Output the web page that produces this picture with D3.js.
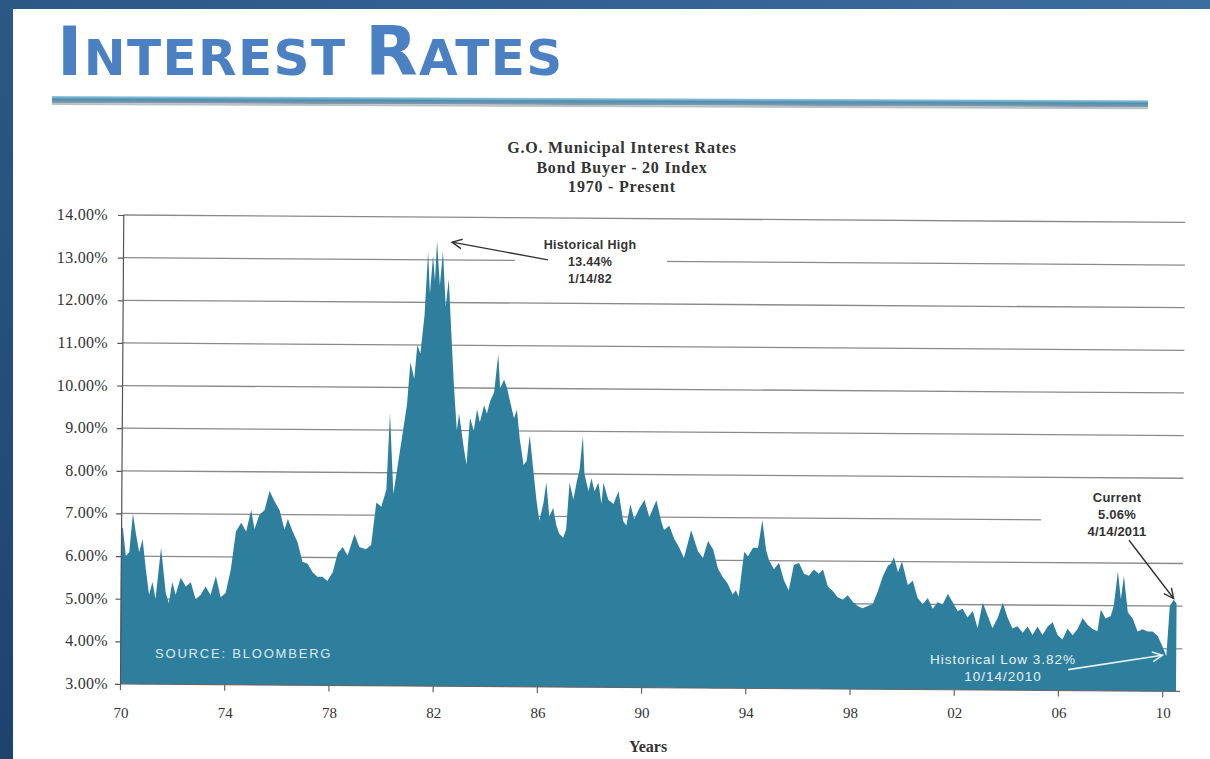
<!DOCTYPE html>
<html>
<head>
<meta charset="utf-8">
<script src="https://cdn.jsdelivr.net/npm/d3@7"></script>
<style>
  body { margin: 0; background: #fff; }
  svg { display: block; }
</style>
</head>
<body>
<div id="chart"></div>
<script>
// DATA
let years = [
  1970.00, 1970.07, 1970.19, 1970.32, 1970.45, 1970.58, 1970.70, 1970.83, 1970.96, 1971.09,
  1971.22, 1971.34, 1971.54, 1971.73, 1971.85, 1971.98, 1972.11, 1972.30, 1972.50, 1972.69,
  1972.88, 1973.07, 1973.26, 1973.45, 1973.65, 1973.84, 1974.03, 1974.22, 1974.41, 1974.61,
  1974.80, 1974.99, 1975.12, 1975.31, 1975.50, 1975.69, 1975.89, 1976.08, 1976.27, 1976.40,
  1976.59, 1976.78, 1976.97, 1977.17, 1977.36, 1977.55, 1977.74, 1977.93, 1978.13, 1978.32,
  1978.51, 1978.70, 1978.96, 1979.15, 1979.40, 1979.60, 1979.79, 1979.98, 1980.17, 1980.29,
  1980.44, 1980.56, 1980.75, 1980.94, 1981.06, 1981.21, 1981.32, 1981.44, 1981.59, 1981.71,
  1981.79, 1981.90, 1981.98, 1982.05, 1982.17, 1982.28, 1982.40, 1982.51, 1982.63, 1982.74,
  1982.86, 1982.94, 1983.13, 1983.24, 1983.36, 1983.51, 1983.63, 1983.74, 1983.90, 1984.01,
  1984.13, 1984.28, 1984.43, 1984.51, 1984.66, 1984.78, 1984.89, 1985.05, 1985.16, 1985.28,
  1985.43, 1985.55, 1985.66, 1985.82, 1985.93, 1986.05, 1986.20, 1986.31, 1986.43, 1986.58,
  1986.70, 1986.81, 1986.97, 1987.08, 1987.20, 1987.35, 1987.47, 1987.58, 1987.70, 1987.77,
  1987.93, 1988.04, 1988.16, 1988.31, 1988.43, 1988.50, 1988.69, 1988.89, 1989.08, 1989.27,
  1989.39, 1989.54, 1989.69, 1989.88, 1990.08, 1990.27, 1990.54, 1990.73, 1990.84, 1991.04,
  1991.23, 1991.42, 1991.61, 1991.88, 1992.15, 1992.34, 1992.53, 1992.73, 1992.92, 1993.11,
  1993.30, 1993.49, 1993.61, 1993.72, 1993.92, 1994.07, 1994.26, 1994.45, 1994.61, 1994.76,
  1994.88, 1995.07, 1995.26, 1995.45, 1995.64, 1995.83, 1996.03, 1996.22, 1996.41, 1996.60,
  1996.79, 1996.95, 1997.14, 1997.33, 1997.52, 1997.72, 1997.91, 1998.10, 1998.29, 1998.48,
  1998.68, 1998.87, 1999.06, 1999.25, 1999.44, 1999.56, 1999.67, 1999.83, 1999.98, 2000.21,
  2000.40, 2000.59, 2000.79, 2000.98, 2001.17, 2001.36, 2001.55, 2001.75, 2001.94, 2002.13,
  2002.32, 2002.51, 2002.71, 2002.90, 2003.09, 2003.28, 2003.47, 2003.67, 2003.86, 2004.05,
  2004.24, 2004.43, 2004.63, 2004.82, 2005.01, 2005.20, 2005.39, 2005.59, 2005.78, 2005.97,
  2006.16, 2006.35, 2006.55, 2006.74, 2006.93, 2007.12, 2007.31, 2007.50, 2007.62, 2007.81,
  2008.00, 2008.12, 2008.27, 2008.39, 2008.50, 2008.66, 2008.85, 2009.04, 2009.23, 2009.42,
  2009.62, 2009.81, 2010.00, 2010.15, 2010.27, 2010.42, 2010.53
]
let rates = [
  6.70, 6.65, 6.00, 6.10, 7.00, 6.50, 6.10, 6.40, 5.70, 5.10,
  5.40, 5.00, 6.20, 5.15, 4.90, 5.40, 5.10, 5.50, 5.30, 5.40,
  5.00, 5.10, 5.30, 5.10, 5.55, 5.05, 5.15, 5.70, 6.60, 6.80,
  6.60, 7.10, 6.65, 7.00, 7.10, 7.55, 7.30, 7.10, 6.65, 6.90,
  6.60, 6.35, 5.90, 5.85, 5.65, 5.55, 5.55, 5.45, 5.65, 6.10,
  6.25, 6.05, 6.55, 6.25, 6.20, 6.30, 7.30, 7.20, 7.60, 9.40,
  7.50, 8.00, 8.80, 9.60, 10.60, 10.20, 11.00, 10.80, 11.70, 13.20,
  12.20, 13.10, 12.50, 13.44, 12.40, 13.20, 11.90, 12.55, 11.20, 10.00,
  9.00, 9.40, 8.60, 8.20, 9.30, 9.00, 9.50, 9.20, 9.60, 9.40,
  9.70, 9.90, 10.80, 10.00, 10.20, 10.00, 9.70, 9.30, 9.50, 8.80,
  8.20, 8.30, 8.90, 8.00, 7.40, 6.90, 7.30, 7.80, 7.00, 7.20,
  6.80, 6.60, 6.50, 6.70, 7.80, 7.40, 7.80, 8.10, 8.90, 8.00,
  7.60, 7.90, 7.60, 7.80, 7.30, 7.80, 7.40, 7.30, 7.60, 6.90,
  6.80, 7.30, 6.95, 7.20, 7.40, 7.00, 7.40, 6.90, 6.70, 6.80,
  6.50, 6.30, 6.05, 6.70, 6.20, 6.05, 6.45, 6.25, 5.80, 5.60,
  5.45, 5.20, 5.30, 5.15, 6.20, 6.10, 6.30, 6.30, 6.95, 6.25,
  6.00, 5.80, 5.95, 5.55, 5.30, 5.90, 5.95, 5.70, 5.65, 5.80,
  5.70, 5.80, 5.40, 5.30, 5.15, 5.10, 5.20, 5.05, 4.95, 4.90,
  4.95, 5.00, 5.30, 5.65, 5.90, 5.95, 6.10, 5.75, 6.00, 5.45,
  5.55, 5.15, 5.00, 5.15, 4.90, 5.05, 5.00, 5.25, 5.05, 4.85,
  4.90, 4.70, 4.85, 4.45, 5.05, 4.75, 4.45, 4.70, 5.05, 4.70,
  4.45, 4.50, 4.35, 4.50, 4.30, 4.50, 4.30, 4.50, 4.60, 4.30,
  4.20, 4.45, 4.30, 4.45, 4.70, 4.55, 4.45, 4.40, 4.90, 4.70,
  4.75, 5.00, 5.80, 5.15, 5.70, 4.85, 4.70, 4.40, 4.45, 4.40,
  4.40, 4.30, 4.05, 3.82, 5.00, 5.15, 5.06
]
let tickYears = [1970, 1974, 1978, 1982, 1986, 1990, 1994, 1998, 2002, 2006, 2010]
let tickLabels = ["70", "74", "78", "82", "86", "90", "94", "98", "02", "06", "10"]
let rateTicks = [3, 4, 5, 6, 7, 8, 9, 10, 11, 12, 13, 14]
let titleLines = ["G.O. Municipal Interest Rates", "Bond Buyer - 20 Index", "1970 - Present"]

let series = years.map((y, i) => ({year: y, rate: rates[i]}))
let high = {year: 1982.05, rate: 13.44}
let low = {year: 2010.15, rate: 3.82}
let current = {year: 2010.53, rate: 5.06}

// CHART AREA
let W = 1210, H = 759
let margin = {top: 215, right: 34, bottom: 75, left: 120}
let plotRight = 1176

let svg = d3.select("#chart").append("svg")
    .attr("width", W)
    .attr("height", H)

let defs = svg.append("defs")
let bg = defs.append("linearGradient").attr("id", "bgGrad")
    .attr("x1", "0").attr("y1", "1").attr("x2", "1").attr("y2", "0")
bg.append("stop").attr("offset", "0%").attr("stop-color", "#1d436d")
bg.append("stop").attr("offset", "100%").attr("stop-color", "#3b6d9f")

let ruleGrad = defs.append("linearGradient").attr("id", "ruleGrad")
    .attr("x1", "0").attr("y1", "0").attr("x2", "0").attr("y2", "1")
ruleGrad.append("stop").attr("offset", "0%").attr("stop-color", "#9ccbe0")
ruleGrad.append("stop").attr("offset", "45%").attr("stop-color", "#4b8fb3")
ruleGrad.append("stop").attr("offset", "100%").attr("stop-color", "#8d9ba5")

// slide background + page
svg.append("rect").attr("width", W).attr("height", H).attr("fill", "url(#bgGrad)")
svg.append("rect").attr("x", 13).attr("y", 9).attr("width", W - 13).attr("height", H - 9).attr("fill", "#fff")

// slide title in small caps
let title = svg.append("text")
    .attr("x", 57).attr("y", 75)
    .attr("font-family", "DejaVu Sans, Verdana, sans-serif")
    .attr("font-weight", "bold")
    .attr("fill", "#4b80c2")
    .attr("letter-spacing", 1.4)
title.append("tspan").attr("font-size", 68).text("I")
title.append("tspan").attr("font-size", 50).text("NTEREST ")
title.append("tspan").attr("font-size", 68).text("R")
title.append("tspan").attr("font-size", 50).text("ATES")

// rule under the title
let rule = svg.append("g").attr("transform", "rotate(0.22, 52, 100)")
rule.append("rect").attr("x", 52).attr("y", 96).attr("width", 1096).attr("height", 7).attr("fill", "url(#ruleGrad)")
rule.append("rect").attr("x", 52).attr("y", 103).attr("width", 1096).attr("height", 2).attr("fill", "#b7c0c6")

// SCALES
let x = d3.scaleLinear()
    .domain([1970, 2010.53])
    .range([margin.left, plotRight])

let y = d3.scaleLinear()
    .domain([3, 14])
    .range([H - margin.bottom, margin.top])

// plot group, slightly skewed like the scan
let plot = svg.append("g").attr("transform", "rotate(0.4, 120, 684)")

// gridlines
plot.append("g").attr("class", "grid")
    .selectAll("line")
    .data(rateTicks.filter(d => d > 3))
    .enter().append("line")
    .attr("x1", margin.left).attr("x2", plotRight + 6)
    .attr("y1", d => y(d)).attr("y2", d => y(d))
    .attr("stroke", "#8a8a8a")
    .attr("stroke-width", 1.3)

// white label boxes that interrupt gridlines
plot.append("rect").attr("x", 512).attr("y", y(13.44) - 6).attr("width", 152).attr("height", 52).attr("fill", "#fff")
plot.append("rect").attr("x", 1040).attr("y", y(7.45)).attr("width", 150).attr("height", 58).attr("fill", "#fff")

// AREA
let area = d3.area()
    .x(d => x(d.year))
    .y0(y(3))
    .y1(d => y(d.rate))

plot.append("path")
    .datum(series)
    .attr("d", area)
    .attr("fill", "#2e7f9e")

// AXIS
let xAxis = d3.axisBottom(x).tickValues(tickYears).tickSize(6).tickFormat("")
let yAxis = d3.axisLeft(y).tickValues(rateTicks).tickSize(5).tickFormat("")

plot.append("g")
    .attr("transform", "translate(0," + y(3) + ")")
    .call(xAxis)
    .call(g => g.select(".domain").attr("d", "M" + margin.left + ",0H" + (plotRight + 4)))
    .selectAll("line, path").attr("stroke", "#666").attr("stroke-width", 1.2)

plot.append("g")
    .attr("transform", "translate(" + margin.left + ",0)")
    .call(yAxis)
    .selectAll("line, path").attr("stroke", "#555").attr("stroke-width", 1.2)

// annotation arrows
function arrow(g, x1, y1, x2, y2, color, w) {
    let a = Math.atan2(y2 - y1, x2 - x1), len = 11, spread = 0.45
    g.append("line").attr("x1", x1).attr("y1", y1).attr("x2", x2).attr("y2", y2)
        .attr("stroke", color).attr("stroke-width", w)
    g.append("polyline")
        .attr("points", [
            [x2 - len * Math.cos(a - spread), y2 - len * Math.sin(a - spread)],
            [x2, y2],
            [x2 - len * Math.cos(a + spread), y2 - len * Math.sin(a + spread)]
        ].map(p => p.join(",")).join(" "))
        .attr("fill", "none").attr("stroke", color).attr("stroke-width", w)
}

arrow(plot, x(high.year) + 111, y(high.rate) + 18, x(high.year) + 15, y(high.rate) + 1, "#333", 1.4)
arrow(plot, x(current.year) - 48, y(current.rate) - 63, x(current.year) - 3, y(current.rate) - 5, "#333", 1.4)
arrow(plot, x(low.year) - 98, y(low.rate) + 14, x(low.year) - 4, y(low.rate) - 1, "#e8f2f6", 1.6)

// TEXT LABELS
let serif = "Liberation Serif, Times New Roman, serif"
let sans = "Liberation Sans, Arial, sans-serif"

svg.append("g").selectAll("text")
    .data(rateTicks)
    .enter().append("text")
    .attr("x", 108)
    .attr("y", d => y(d) + 5)
    .attr("text-anchor", "end")
    .attr("font-family", serif)
    .attr("font-size", 16)
    .attr("letter-spacing", 0.3)
    .attr("fill", "#333")
    .text(d => d.toFixed(2) + "%")

svg.append("g").selectAll("text")
    .data(tickYears)
    .enter().append("text")
    .attr("x", d => x(d) + 1)
    .attr("y", 718)
    .attr("text-anchor", "middle")
    .attr("font-family", serif)
    .attr("font-size", 15)
    .attr("fill", "#333")
    .text((d, i) => tickLabels[i])

svg.append("text")
    .attr("x", 648).attr("y", 752)
    .attr("text-anchor", "middle")
    .attr("font-family", serif).attr("font-weight", "bold").attr("font-size", 16)
    .attr("fill", "#333")
    .text("Years")

svg.append("g").selectAll("text")
    .data(titleLines)
    .enter().append("text")
    .attr("x", 622)
    .attr("y", (d, i) => 153 + i * 19.5)
    .attr("text-anchor", "middle")
    .attr("font-family", serif).attr("font-weight", "bold").attr("font-size", 16)
    .attr("letter-spacing", 0.8)
    .attr("fill", "#333")
    .text(d => d)

// annotation texts
function block(lines, cx, y0, color, size, weight, spacing) {
    svg.append("g").selectAll("text")
        .data(lines)
        .enter().append("text")
        .attr("x", cx)
        .attr("y", (d, i) => y0 + i * 17)
        .attr("text-anchor", "middle")
        .attr("font-family", sans)
        .attr("font-weight", weight)
        .attr("font-size", size)
        .attr("letter-spacing", spacing)
        .attr("fill", color)
        .text(d => d)
}

block(["Historical High", "13.44%", "1/14/82"], 590, 249, "#333", 12.5, "bold", 0.3)
block(["Current", "5.06%", "4/14/2011"], 1117, 502, "#333", 13, "bold", 0.2)
block(["Historical Low 3.82%", "10/14/2010"], 1003, 664, "#e8f2f6", 13.5, "normal", 1)

svg.append("text")
    .attr("x", 155).attr("y", 658)
    .attr("font-family", sans).attr("font-size", 13)
    .attr("letter-spacing", 1.8)
    .attr("fill", "#dbe8ee")
    .text("SOURCE: BLOOMBERG")
</script>
</body>
</html>
